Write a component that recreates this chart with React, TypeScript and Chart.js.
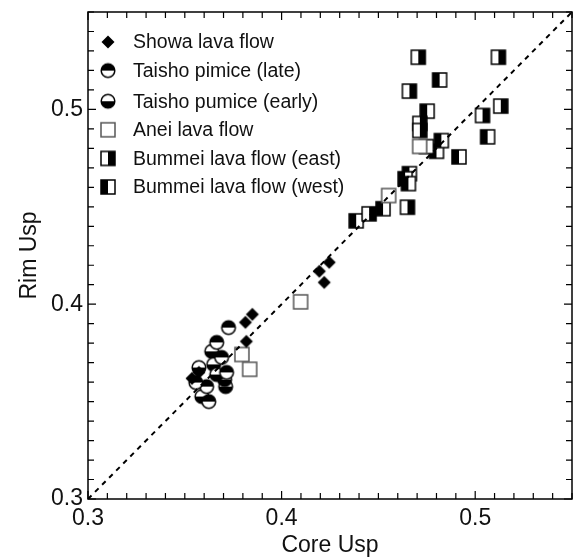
import React, { useEffect, useRef } from "react";
import { Chart, registerables } from "chart.js";
Chart.register(...registerables);

// ---- data (Core Usp = x, Rim Usp = y) ----
const showaX = [0.3849, 0.3813, 0.3818, 0.3537, 0.3573, 0.4246, 0.4195, 0.422];
const showaY = [0.3948, 0.3907, 0.3809, 0.3619, 0.365, 0.4215, 0.4169, 0.4112];

const taishoLateX = [0.3726, 0.3665, 0.369, 0.3716, 0.3613, 0.3624, 0.3557];
const taishoLateY = [0.388, 0.3804, 0.3727, 0.365, 0.3577, 0.35, 0.3598];

const taishoEarlyX = [0.3639, 0.3573, 0.3711, 0.3588, 0.3706, 0.3649, 0.3665];
const taishoEarlyY = [0.3758, 0.3675, 0.3577, 0.3526, 0.3613, 0.3691, 0.3639];

const aneiX = [0.4098, 0.3795, 0.3835, 0.4713, 0.4553];
const aneiY = [0.4012, 0.3742, 0.3666, 0.481, 0.4558];

const eastX = [0.4706, 0.512, 0.466, 0.5132, 0.4714, 0.4714, 0.5038, 0.465, 0.4452];
const eastY = [0.5268, 0.5268, 0.5094, 0.5017, 0.4928, 0.4892, 0.4969, 0.4498, 0.4464];

const westX = [0.4816, 0.4752, 0.5064, 0.4916, 0.48, 0.4748, 0.4825, 0.466, 0.4638, 0.4655, 0.4385, 0.4524];
const westY = [0.5151, 0.4991, 0.4859, 0.4756, 0.4785, 0.4809, 0.484, 0.467, 0.4644, 0.4619, 0.4428, 0.449];

const diagonal = [0.3, 0.55];
const axisMin = 0.3;
const axisMax = 0.55;
const majorTicks = [0.3, 0.4, 0.5];
const legendLabels = [
  "Showa lava flow",
  "Taisho pimice (late)",
  "Taisho pumice (early)",
  "Anei lava flow",
  "Bummei lava flow (east)",
  "Bummei lava flow (west)",
];

const FONT = "'Liberation Sans', Arial, sans-serif";

function makeMarker(kind: string): HTMLCanvasElement {
  const s = 20;
  const c = document.createElement("canvas");
  c.width = s;
  c.height = s;
  const g = c.getContext("2d")!;
  const m = s / 2;
  g.lineWidth = 1.5;
  if (kind === "diamond") {
    const r = 6.5;
    g.beginPath();
    g.moveTo(m, m - r);
    g.lineTo(m + r, m);
    g.lineTo(m, m + r);
    g.lineTo(m - r, m);
    g.closePath();
    g.fillStyle = "#000";
    g.fill();
  } else if (kind === "circleTop" || kind === "circleBottom") {
    const r = 6.8;
    g.beginPath();
    g.arc(m, m, r, 0, Math.PI * 2);
    g.fillStyle = "#fff";
    g.fill();
    g.beginPath();
    if (kind === "circleTop") g.arc(m, m, r, Math.PI, Math.PI * 2);
    else g.arc(m, m, r, 0, Math.PI);
    g.closePath();
    g.fillStyle = "#000";
    g.fill();
    g.beginPath();
    g.arc(m, m, r, 0, Math.PI * 2);
    g.strokeStyle = "#000";
    g.stroke();
  } else {
    const h = 7;
    g.fillStyle = "#fff";
    g.fillRect(m - h, m - h, 2 * h, 2 * h);
    g.fillStyle = "#000";
    if (kind === "squareRight") g.fillRect(m, m - h, h, 2 * h);
    if (kind === "squareLeft") g.fillRect(m - h, m - h, h, 2 * h);
    g.strokeStyle = kind === "square" ? "#555" : "#000";
    g.strokeRect(m - h, m - h, 2 * h, 2 * h);
  }
  return c;
}

const tickLabel = (v: any) => {
  const n = Math.round(Number(v) * 100) / 100;
  return majorTicks.includes(n) ? n.toFixed(1) : "";
};

const zeroPadding = (s: any) => {
  s.paddingTop = 0;
  s.paddingBottom = 0;
  s.paddingLeft = 0;
  s.paddingRight = 0;
};

export default function App() {
  const ref = useRef<HTMLCanvasElement>(null);

  useEffect(() => {
    const markers = [
      makeMarker("diamond"),
      makeMarker("circleTop"),
      makeMarker("circleBottom"),
      makeMarker("square"),
      makeMarker("squareRight"),
      makeMarker("squareLeft"),
    ];
    const series = [
      [showaX, showaY],
      [taishoLateX, taishoLateY],
      [taishoEarlyX, taishoEarlyY],
      [aneiX, aneiY],
      [eastX, eastY],
      [westX, westY],
    ];
    const pts = (xs: number[], ys: number[]) => xs.map((x, i) => ({ x, y: ys[i] }));

    const framePlugin = {
      id: "frameAndLegend",
      afterDatasetsDraw(chart: any) {
        const { ctx, chartArea: a, scales } = chart;
        const xs = scales.x;
        const ys = scales.y;
        ctx.save();
        ctx.strokeStyle = "#000";
        ctx.lineWidth = 1.5;
        ctx.strokeRect(a.left, a.top, a.right - a.left, a.bottom - a.top);
        ctx.lineWidth = 1.2;
        for (let i = 30; i <= 55; i++) {
          const v = i / 100;
          const major = i % 10 === 0;
          const len = major ? 8 : 6;
          const px = xs.getPixelForValue(v);
          const py = ys.getPixelForValue(v);
          ctx.beginPath();
          ctx.moveTo(px, a.bottom);
          ctx.lineTo(px, a.bottom - len);
          ctx.moveTo(px, a.top);
          ctx.lineTo(px, a.top + len);
          ctx.moveTo(a.left, py);
          ctx.lineTo(a.left + len, py);
          ctx.moveTo(a.right, py);
          ctx.lineTo(a.right - len, py);
          ctx.stroke();
        }
        // legend
        ctx.font = `19.5px ${FONT}`;
        ctx.fillStyle = "#111";
        ctx.textBaseline = "middle";
        ctx.textAlign = "left";
        legendLabels.forEach((lab, i) => {
          const y = a.top + 30 + i * 28.6 + (i >= 2 ? 2 : 0);
          const mk = markers[i];
          ctx.drawImage(mk, a.left + 20 - mk.width / 2, y - mk.height / 2);
          ctx.fillText(lab, a.left + 45, y + 1);
        });
        ctx.restore();
      },
    };

    const chart = new Chart(ref.current!, {
      type: "scatter",
      data: {
        datasets: [
          {
            type: "line" as any,
            data: pts(diagonal, diagonal),
            borderColor: "#000",
            borderWidth: 2,
            borderDash: [5, 5],
            pointRadius: 0,
            fill: false,
          },
          ...series.map(([xs, ys], i) => ({
            data: pts(xs, ys),
            pointStyle: markers[i] as any,
            pointRadius: 7,
            backgroundColor: "#000",
            borderColor: "#000",
          })),
        ],
      },
      options: {
        animation: false,
        responsive: false,
        layout: { padding: { top: 12, right: 1, left: 0, bottom: 0 } },
        plugins: { legend: { display: false }, tooltip: { enabled: false } },
        scales: {
          x: {
            type: "linear",
            min: axisMin,
            max: axisMax,
            grid: { display: false, drawTicks: false },
            border: { display: false },
            afterBuildTicks: (s: any) => {
              s.ticks = [...majorTicks, axisMax].map((v) => ({ value: v }));
            },
            afterFit: (s: any) => {
              s.height = 61;
              zeroPadding(s);
            },
            ticks: {
              padding: 6,
              maxRotation: 0,
              autoSkip: false,
              color: "#111",
              font: { size: 23, family: FONT },
              callback: tickLabel,
            },
            title: {
              display: true,
              text: "Core Usp",
              color: "#111",
              font: { size: 23, family: FONT },
              padding: { top: 0, bottom: 1 },
            },
          },
          y: {
            type: "linear",
            min: axisMin,
            max: axisMax,
            grid: { display: false, drawTicks: false },
            border: { display: false },
            afterBuildTicks: (s: any) => {
              s.ticks = [...majorTicks, axisMax].map((v) => ({ value: v }));
            },
            afterFit: (s: any) => {
              s.width = 88;
              zeroPadding(s);
            },
            ticks: {
              padding: 5,
              autoSkip: false,
              color: "#111",
              font: { size: 23, family: FONT },
              callback: tickLabel,
            },
            title: {
              display: true,
              text: "Rim Usp",
              color: "#111",
              font: { size: 23, family: FONT },
              padding: { top: 16, bottom: 0 },
            },
          },
        },
      },
      plugins: [framePlugin],
    });
    return () => chart.destroy();
  }, []);

  return (
    <div style={{ position: "absolute", left: 0, top: 0, width: 580, height: 560, background: "#fff" }}>
      <canvas ref={ref} width={580} height={560} />
    </div>
  );
}
